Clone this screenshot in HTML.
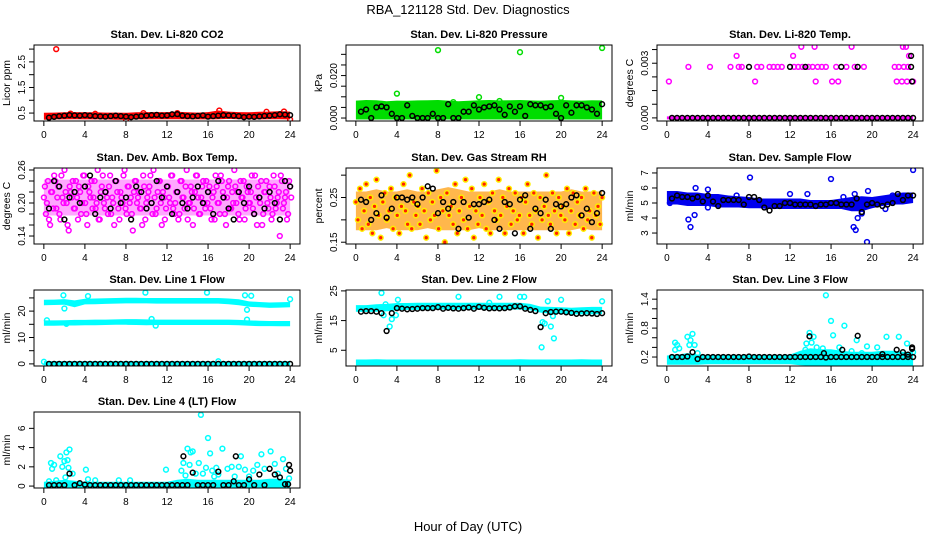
<!DOCTYPE html>
<html><head><meta charset="utf-8">
<style>
html,body{margin:0;padding:0;background:#fff;}
svg{display:block;font-family:"Liberation Sans",sans-serif;}
</style></head>
<body>
<svg id="chart" width="936" height="540" viewBox="0 0 936 540" xmlns="http://www.w3.org/2000/svg">
<rect width="936" height="540" fill="#fff"/>
<text x="468" y="14" font-size="13" text-anchor="middle">RBA_121128  Std. Dev. Diagnostics</text>
<text x="468" y="531" font-size="13" text-anchor="middle">Hour of Day (UTC)</text>
<g id="panels"></g>
</svg>
<script>
// ---------- data ----------
const xTicks = [0,4,8,12,16,20,24];
const blackHours = [0.5,1,1.5,2,2.5,3,3.5,4,4.5,5,5.5,6,6.5,7,7.5,8,8.5,9,9.5,10,10.5,11,11.5,12,12.5,13,13.5,14,14.5,15,15.5,16,16.5,17,17.5,18,18.5,19,19.5,20,20.5,21,21.5,22,22.5,23,23.5,24];
const bandHours = [0,1,2,3,4,5,6,7,8,9,10,11,12,13,14,15,16,17,18,19,20,21,22,23,24];

// P1 CO2
const co2Ticks = [0.5,1,1.5,2,2.5,3];
const co2Labels = ["0.5","","1.5","","2.5",""];
const co2BandLo = [0.30,0.31,0.31,0.32,0.31,0.31,0.31,0.30,0.30,0.31,0.31,0.32,0.32,0.32,0.31,0.31,0.31,0.32,0.33,0.32,0.31,0.31,0.32,0.32,0.31];
const co2BandHi = [0.45,0.46,0.47,0.48,0.47,0.47,0.46,0.46,0.45,0.47,0.48,0.48,0.48,0.49,0.47,0.46,0.48,0.54,0.50,0.48,0.47,0.49,0.50,0.52,0.50];
const co2Pts = [[1.2,3.0],[17.1,0.6],[21.7,0.55],[23.4,0.56],[8,0.25],[24,0.25],[2.6,0.48],[5,0.47],[9.7,0.5],[13,0.5]];
const co2Black = [0.32,0.35,0.38,0.40,0.42,0.41,0.40,0.42,0.40,0.38,0.37,0.36,0.38,0.40,0.38,0.36,0.34,0.36,0.38,0.40,0.42,0.43,0.40,0.41,0.45,0.46,0.40,0.38,0.37,0.39,0.41,0.36,0.38,0.40,0.42,0.41,0.40,0.38,0.34,0.36,0.35,0.37,0.39,0.40,0.42,0.45,0.44,0.42];

// P2 Pressure
const presTicks = [0,0.005,0.01,0.015,0.02,0.025,0.03];
const presLabels = ["0.000","","","","0.020","",""];
const presBandLo = [0,0,0,0,0,0,0,0,0,0,0,0,0,0,0,0,0,0,0,0,0,0,0,0,0];
const presBandHi = [0.0075,0.0078,0.0077,0.0072,0.0075,0.0074,0.0076,0.0077,0.0078,0.0075,0.0072,0.0074,0.0077,0.0078,0.0076,0.0077,0.0078,0.0076,0.0075,0.0077,0.0078,0.0076,0.0075,0.0077,0.0076];
const presPts = [[8,0.032],[16,0.031],[24,0.033],[4,0.0115],[12,0.0098],[20,0.0095],[9.5,0.0075],[14,0.008]];
const presBlack = [0.003,0.004,0.0,0.005,0.0055,0.005,0.002,0.0,0.0,0.006,0.001,0.0,0.0,0.0,0.002,0.0,0.0,0.0065,0.0,0.0,0.003,0.003,0.006,0.004,0.005,0.0055,0.006,0.004,0.0015,0.0055,0.003,0.0055,0.001,0.0065,0.006,0.006,0.005,0.0055,0.002,0.0,0.006,0.0025,0.006,0.006,0.005,0.004,0.002,0.0065];

// P3 Temp
const tempTicks = [0,0.00075,0.0015,0.00225,0.003,0.00375];
const tempLabels = ["0.000","","","","0.003",""];
const tempBandLo = [0,0,0,0,0,0,0,0,0,0,0,0,0,0,0,0,0,0,0,0,0,0,0,0,0];
const tempBandHi = [0,0,0,0,0,0,0,0,0,0,0,0,0,0,0,0,0,0,0,0,0,0,0,0,0];
const tempPts = [[0.2,0.002],[2.1,0.0028],[4.2,0.0028],[6.2,0.0028],[6.8,0.0034],[7,0.0028],[7.3,0.0028],[8.6,0.002],[8.8,0.0028],[9.2,0.0028],[10,0.0028],[10.4,0.0028],[10.8,0.0028],[11.2,0.0028],[12.3,0.0034],[12.4,0.0028],[12.8,0.0028],[13.1,0.0039],[13.2,0.0028],[13.8,0.0028],[14.2,0.0028],[14.4,0.0039],[14.5,0.002],[14.7,0.0028],[15.1,0.0028],[15.5,0.0028],[16.1,0.002],[16.5,0.0028],[16.7,0.002],[17.5,0.0028],[18,0.0039],[18.3,0.0028],[19.2,0.0028],[22.2,0.0028],[22.4,0.002],[22.6,0.0028],[22.9,0.002],[23,0.0039],[23.1,0.0028],[23.3,0.0039],[23.4,0.002],[23.5,0.0028],[23.6,0.0034],[24,0.002]];
const tempBlack = [0,0,0,0,0,0,0,0,0,0,0,0,0,0,0,0,0,0,0,0,0,0,0,0,0,0,0,0,0,0,0,0,0,0,0,0,0,0,0,0,0,0,0,0,0,0,0,0];
const tempBlackExtra = [[8,0.0028],[12,0.0028],[13.5,0.0028],[17,0.0028],[18.6,0.0028],[23.8,0.0028],[23.8,0.0034],[23.9,0.002]];

// P4 Amb box temp
const ambTicks = [0.14,0.16,0.18,0.2,0.22,0.24,0.26];
const ambLabels = ["0.14","","","0.20","","","0.26"];
const ambBandLo = [0.18,0.18,0.18,0.18,0.18,0.18,0.18,0.18,0.18,0.18,0.18,0.18,0.18,0.18,0.18,0.18,0.18,0.18,0.18,0.18,0.18,0.18,0.18,0.18,0.18];
const ambBandHi = [0.24,0.24,0.24,0.24,0.24,0.24,0.24,0.24,0.24,0.24,0.24,0.24,0.24,0.24,0.24,0.24,0.24,0.24,0.24,0.24,0.24,0.24,0.24,0.24,0.24];
const ambCloud = [0.21,0.18,0.24,0.16,0.22,0.25,0.19,0.23,0.17,0.21,0.26,0.20,0.15,0.22,0.24,0.19,0.21,0.23,0.18,0.25,0.20,0.16,0.22,0.24,0.21,0.19,0.26,0.17,0.23,0.20,0.22,0.18,0.25,0.21,0.16,0.24,0.19,0.22,0.20,0.26,0.18,0.23,0.21,0.15,0.24,0.20,0.22,0.19,0.25,0.17,0.21,0.23,0.20,0.26,0.18,0.22,0.24,0.16,0.21,0.19,0.23,0.20,0.25,0.18,0.22,0.17,0.24,0.21,0.19,0.26,0.20,0.23,0.16,0.22,0.25,0.18,0.21,0.24,0.19,0.20,0.23,0.17,0.22,0.25,0.20,0.18,0.24,0.21,0.16,0.23,0.19,0.22,0.26,0.20,0.18,0.24,0.21,0.17,0.23,0.20,0.22,0.19,0.25,0.16,0.21,0.24,0.18,0.22,0.20,0.23,0.17,0.25,0.19,0.21,0.14,0.24,0.20,0.22,0.18,0.23];
const ambCloud2 = [0.23,0.20,0.17,0.22,0.19,0.24,0.21,0.18,0.25,0.20,0.22,0.16,0.23,0.21,0.19,0.24,0.17,0.22,0.20,0.25,0.18,0.23,0.21,0.19,0.24,0.20,0.17,0.22,0.25,0.19,0.21,0.23,0.18,0.20,0.24,0.22,0.17,0.21,0.25,0.19,0.23,0.20,0.18,0.22,0.24,0.21,0.19,0.16,0.23,0.20,0.22,0.25,0.18,0.21,0.19,0.24,0.20,0.22,0.17,0.23,0.21,0.25,0.19,0.20,0.22,0.18,0.24,0.21,0.23,0.17,0.20,0.22,0.19,0.25,0.21,0.18,0.23,0.20,0.24,0.22,0.19,0.21,0.17,0.23,0.20,0.25,0.22,0.18,0.21,0.24,0.19,0.20,0.23,0.22,0.17,0.21,0.24,0.19,0.22,0.20,0.25,0.18,0.21,0.23,0.20,0.16,0.22,0.24,0.19,0.21,0.18,0.23,0.20,0.22,0.25,0.19,0.21,0.17,0.24,0.21];
const ambBlack = [0.19,0.24,0.23,0.17,0.21,0.22,0.20,0.23,0.25,0.18,0.21,0.22,0.19,0.24,0.20,0.21,0.17,0.23,0.22,0.19,0.20,0.24,0.21,0.23,0.18,0.22,0.20,0.19,0.21,0.23,0.20,0.22,0.18,0.24,0.21,0.19,0.17,0.22,0.20,0.23,0.18,0.21,0.19,0.22,0.20,0.17,0.24,0.23];

// P5 Gas stream RH
const rhTicks = [0.15,0.2,0.25,0.3];
const rhLabels = ["0.15","","0.25",""];
const rhBandLo = [0.18,0.18,0.18,0.185,0.18,0.18,0.18,0.185,0.18,0.18,0.18,0.18,0.185,0.18,0.18,0.18,0.18,0.18,0.18,0.18,0.18,0.18,0.185,0.18,0.18];
const rhBandHi = [0.26,0.26,0.265,0.26,0.26,0.265,0.26,0.26,0.265,0.27,0.265,0.26,0.26,0.26,0.265,0.26,0.26,0.26,0.26,0.26,0.26,0.265,0.26,0.26,0.26];
const rhCloud = [0.24,0.20,0.27,0.18,0.22,0.28,0.19,0.25,0.17,0.23,0.29,0.21,0.16,0.24,0.26,0.20,0.22,0.27,0.18,0.25,0.21,0.17,0.23,0.28,0.22,0.19,0.30,0.18,0.24,0.21,0.23,0.19,0.27,0.22,0.16,0.26,0.20,0.24,0.21,0.31,0.18,0.25,0.22,0.15,0.26,0.21,0.23,0.19,0.28,0.17,0.22,0.25,0.20,0.29,0.18,0.23,0.27,0.16,0.22,0.19,0.25,0.21,0.28,0.18,0.24,0.17,0.26,0.22,0.20,0.29,0.21,0.25,0.17,0.23,0.27,0.19,0.22,0.26,0.20,0.21,0.25,0.17,0.24,0.28,0.21,0.19,0.26,0.22,0.16,0.25,0.20,0.23,0.30,0.21,0.19,0.26,0.22,0.17,0.25,0.21,0.23,0.20,0.27,0.17,0.22,0.26,0.19,0.24,0.21,0.25,0.18,0.27,0.20,0.22,0.16,0.26,0.21,0.23,0.19,0.25];
const rhBlack = [0.245,0.24,0.20,0.215,0.255,0.205,0.225,0.25,0.25,0.245,0.25,0.235,0.25,0.275,0.27,0.215,0.24,0.225,0.24,0.18,0.24,0.205,0.235,0.235,0.24,0.245,0.20,0.18,0.24,0.235,0.17,0.245,0.255,0.18,0.225,0.215,0.245,0.18,0.235,0.23,0.235,0.25,0.255,0.21,0.225,0.195,0.215,0.26];

// P6 Sample flow
const sfTicks = [3,4,5,6,7];
const sfLabels = ["3","4","5","6","7"];
const sfBandLo = [5.0,5.0,4.9,4.9,4.9,4.8,4.8,4.8,4.75,4.75,4.7,4.7,4.7,4.7,4.7,4.7,4.7,4.7,4.55,4.55,4.75,4.9,5.0,5.0,5.1];
const sfBandHi = [5.7,5.7,5.6,5.6,5.5,5.5,5.4,5.35,5.3,5.2,5.2,5.2,5.2,5.2,5.1,5.1,5.1,5.2,5.3,5.35,5.3,5.4,5.5,5.6,5.6];
const sfPts = [[0.3,5.0],[2.1,3.9],[2.3,3.4],[2.7,4.2],[2.8,6.0],[4,5.9],[4,4.7],[6.8,5.5],[8.1,6.7],[12,5.6],[13.7,5.6],[16,6.6],[17.2,5.4],[18.2,3.4],[18.4,3.2],[18.6,4.0],[18.3,5.6],[19.0,4.3],[19.5,2.4],[19.6,5.8],[20.2,5.2],[24,7.2],[22,5.5],[21.3,4.6]];
const sfBlack = [5.3,5.5,5.4,5.4,5.3,5.4,5.1,5.5,5.1,4.8,5.2,5.2,5.2,5.2,4.9,5.4,5.4,5.2,4.7,4.5,4.8,4.8,5.0,5.0,4.9,4.9,4.9,4.9,4.8,4.9,4.9,5.0,5.0,4.9,4.9,4.9,5.3,4.4,4.9,5.0,4.9,4.8,4.9,5.0,5.6,5.2,5.5,5.5];

// P7 Line 1 flow
const l1Ticks = [0,5,10,15,20,25];
const l1Labels = ["0","","10","","20",""];
const l1BandALo = [0,0,0,0,0,0,0,0,0,0,0,0,0,0,0,0,0,0,0,0,0,0,0,0,0];
const l1BandAHi = [0.5,0.5,0.5,0.5,0.5,0.5,0.5,0.5,0.5,0.5,0.5,0.5,0.5,0.5,0.5,0.5,0.5,0.5,0.5,0.5,0.5,0.5,0.5,0.5,0.5];
const l1BandBLo = [15.0,15.0,15.1,15.1,15.2,15.2,15.3,15.4,15.4,15.3,15.2,15.3,15.3,15.3,15.3,15.3,15.3,15.3,15.3,15.2,15.0,14.9,14.9,14.8,14.8];
const l1BandBHi = [15.9,15.9,16.0,16.1,16.1,16.2,16.2,16.3,16.4,16.4,16.3,16.2,16.2,16.2,16.2,16.2,16.2,16.2,16.2,16.1,15.9,15.8,15.7,15.7,15.7];
const l1BandCLo = [22.8,22.9,23.0,22.0,23.1,23.2,23.3,23.4,23.5,23.5,23.5,23.4,23.4,23.4,23.4,23.4,23.4,23.4,23.2,22.8,22.2,22.0,21.8,21.9,22.0];
const l1BandCHi = [23.7,23.8,24.0,23.5,24.1,24.2,24.3,24.4,24.5,24.5,24.4,24.4,24.4,24.4,24.4,24.4,24.4,24.4,24.2,23.9,23.1,22.9,22.7,22.8,22.9];
const l1Pts = [[0.3,16.5],[1.9,26.0],[2,21],[4.3,25.7],[9.9,27],[15.9,27],[19.6,26],[19.8,20.5],[20.2,25.8],[24,24.5],[19.8,16.8],[10.9,14.5],[10.5,17],[2.2,15.2],[0,0.8],[17,1]];
const l1Black = [0,0,0,0,0,0,0,0,0,0,0,0,0,0,0,0,0,0,0,0,0,0,0,0,0,0,0,0,0,0,0,0,0,0,0,0,0,0,0,0,0,0,0,0,0,0,0,0];

// P8 Line 2 flow
const l2Ticks = [5,15,25];
const l2Labels = ["5","15","25"];
const l2BandALo = [0.4,0.4,0.4,0.4,0.4,0.4,0.4,0.4,0.4,0.4,0.4,0.4,0.4,0.4,0.4,0.4,0.4,0.4,0.4,0.4,0.4,0.4,0.4,0.4,0.4];
const l2BandAHi = [1.4,1.4,1.5,1.4,1.4,1.4,1.4,1.4,1.4,1.4,1.4,1.4,1.4,1.4,1.4,1.4,1.5,1.4,1.4,1.4,1.4,1.4,1.5,1.4,1.4];
const l2BandBLo = [18.5,18.4,18.5,18.6,19.0,19.1,19.1,19.2,19.2,19.2,19.2,19.2,19.2,19.2,19.2,19.2,19.2,19.0,18.2,17.8,17.8,17.6,17.6,17.6,17.7];
const l2BandBHi = [19.7,19.7,20.0,20.1,20.4,20.4,20.5,20.5,20.5,20.5,20.5,20.5,20.5,20.5,20.5,20.5,20.5,20.1,19.2,19.1,19.0,18.8,19.0,19.1,19.1];
const l2Pts = [[2.5,24.3],[2.7,16.8],[2.9,20.5],[3.3,13],[3.5,15.5],[3.9,16.8],[4.1,22],[10,23],[13,21],[14,23],[16,23],[16.4,23],[18.2,14.5],[18.1,6],[18.4,14],[18.7,21.5],[19.0,13],[19.2,16.5],[19.3,9],[20,22],[24,21.5]];
const l2Black = [18,18.2,18.2,18,17.5,11.5,17.5,19.2,19.0,18.8,18.9,19.0,19.2,19.2,19.2,19.5,19.0,19.3,19.1,19.0,19.2,19.4,19.0,19.6,19.3,19.1,19.2,19.1,19.2,19.4,19.8,19.8,19.0,18.6,18.2,12.8,17.5,17.9,18.0,18.0,17.8,17.6,17.3,17.4,17.5,17.4,17.2,17.5];

// P9 Line 3 flow
const l3Ticks = [0.2,0.4,0.6,0.8,1.0,1.2,1.4];
const l3Labels = ["0.2","","","0.8","","","1.4"];
const l3BandLo = [0.07,0.07,0.07,0.07,0.08,0.08,0.08,0.08,0.08,0.08,0.08,0.08,0.08,0.06,0.05,0.05,0.05,0.05,0.05,0.05,0.05,0.05,0.05,0.05,0.05];
const l3BandHi = [0.2,0.22,0.25,0.22,0.21,0.21,0.21,0.21,0.21,0.21,0.21,0.21,0.22,0.30,0.35,0.33,0.33,0.30,0.28,0.28,0.28,0.30,0.30,0.28,0.28];
const l3Pts = [[0.8,0.35],[0.8,0.5],[1,0.45],[1.2,0.38],[2,0.62],[2.2,0.45],[2.3,0.55],[2.5,0.68],[2.7,0.45],[3,0.28],[13.6,0.48],[13.5,0.35],[13.9,0.7],[14.1,0.5],[14.3,0.62],[14.6,0.4],[15.2,0.38],[15.5,1.48],[16,0.95],[16.2,0.65],[16.8,0.4],[17.3,0.85],[18,0.32],[18.5,0.55],[19,0.28],[19.5,0.42],[20.5,0.4],[21.4,0.62],[22.6,0.62],[23.4,0.48],[24,0.3]];
const l3Black = [0.2,0.2,0.2,0.21,0.3,0.16,0.2,0.2,0.2,0.2,0.2,0.2,0.2,0.2,0.2,0.21,0.2,0.2,0.2,0.2,0.2,0.2,0.2,0.2,0.2,0.2,0.2,0.2,0.2,0.2,0.19,0.2,0.2,0.2,0.2,0.2,0.2,0.2,0.2,0.2,0.2,0.2,0.2,0.2,0.2,0.2,0.2,0.2];
const l3BlackExtra = [[13.9,0.63],[15.3,0.28],[17.1,0.35],[18.6,0.64],[21,0.26],[22.4,0.35],[23,0.3],[23.9,0.37],[23.9,0.4],[23.5,0.25]];

// P10 Line 4 flow
const l4Ticks = [0,2,4,6];
const l4Labels = ["0","2","4","6"];
const l4BandLo = [0,0,0,0,0,0,0,0,0,0,0,0,0,0,0,0,0,0,0,0,0,0,0,0,0];
const l4BandHi = [0.3,0.4,0.5,0.4,0.3,0.3,0.3,0.3,0.3,0.3,0.3,0.3,0.3,0.5,0.6,0.5,0.5,0.5,0.5,0.5,0.5,0.5,0.6,0.6,0.5];
const l4Pts = [[0.5,0.5],[0.7,2.4],[0.8,1.8],[1.0,2.2],[1.2,0.6],[1.6,3.1],[1.8,2.0],[2.0,2.6],[2.2,3.5],[2.3,2.7],[2.5,3.8],[2.4,1.9],[2.8,1.3],[2.1,0.9],[4.1,1.7],[4.3,0.7],[5,0.6],[7.3,0.6],[8.4,0.6],[11.9,1.7],[13.4,1.6],[13.6,2.4],[13.8,1.1],[14,3.9],[14.2,2.2],[14.5,3.6],[14.8,1.3],[15.1,2.4],[15.3,7.4],[15.5,1.3],[15.8,1.9],[16,5.0],[16.2,3.4],[16.4,1.6],[16.6,1.0],[17.4,3.9],[17.9,1.8],[18.3,2.0],[18.6,1.0],[19.2,3.1],[19.6,1.7],[20,1.0],[20.4,1.6],[20.8,2.2],[21.2,3.3],[21.5,1.8],[22.1,3.6],[22.5,2.3],[22.8,1.3],[23.3,2.8],[23.6,1.8],[23.9,0.8],[16.8,1.9],[17,1.2],[14.3,3.5],[19,2.0]];
const l4Black = [0.1,0.1,0.1,0.1,1.3,0.1,0.3,0.15,0.1,0.1,0.1,0.1,0.1,0.1,0.1,0.1,0.1,0.1,0.1,0.1,0.1,0.1,0.1,0.1,0.1,0.1,0.1,0.1,1.4,0.1,0.1,0.1,0.1,1.5,0.1,0.1,0.5,0.1,0.1,0.7,0.1,1.2,0.1,1.8,1.2,0.9,0.2,1.6];
const l4BlackExtra = [[13.6,3.1],[18.7,3.1],[23.9,2.2],[23.8,0.2]];

// ---------- layout ----------
const colX = [34,346,657], rowY = [45,168,290,412], PW = 266, PH = 76;
const panels = [
 {title:"Stan. Dev. Li-820 CO2", ylab:"Licor ppm", c:0,r:0, ymin:0.19,ymax:3.16, ticks:co2Ticks, labels:co2Labels, bands:[[co2BandLo,co2BandHi]], col:"#ff0000", fill:null, pts:co2Pts, clouds:[], black:co2Black, extra:[]},
 {title:"Stan. Dev. Li-820 Pressure", ylab:"kPa", c:1,r:0, ymin:-0.0014,ymax:0.0344, ticks:presTicks, labels:presLabels, bands:[[presBandLo,presBandHi]], col:"#00dd00", fill:null, pts:presPts, clouds:[], black:presBlack, extra:[]},
 {title:"Stan. Dev. Li-820 Temp.", ylab:"degrees C", c:2,r:0, ymin:-0.00017,ymax:0.0040, ticks:tempTicks, labels:tempLabels, bands:[[tempBandLo,tempBandHi]], col:"#ff00ff", fill:null, pts:tempPts, clouds:[], black:tempBlack, extra:tempBlackExtra},
 {title:"Stan. Dev. Amb. Box Temp.", ylab:"degrees C", c:0,r:1, ymin:0.1255,ymax:0.2636, ticks:ambTicks, labels:ambLabels, bands:[[ambBandLo,ambBandHi]], bandOpacity:0.35, col:"#ff00ff", fill:null, pts:[], clouds:[ambCloud,ambCloud2], black:ambBlack, extra:[]},
 {title:"Stan. Dev. Gas Stream RH", ylab:"percent", c:1,r:1, ymin:0.146,ymax:0.316, ticks:rhTicks, labels:rhLabels, bands:[[rhBandLo,rhBandHi]], bandOpacity:0.7, bandCol:"#ff9900", col:"#ffee00", fill:"#ff2200", pts:[], clouds:[rhCloud], black:rhBlack, extra:[]},
 {title:"Stan. Dev. Sample Flow", ylab:"ml/min", c:2,r:1, ymin:2.27,ymax:7.33, ticks:sfTicks, labels:sfLabels, bands:[[sfBandLo,sfBandHi]], col:"#0000ee", fill:null, pts:sfPts, clouds:[], black:sfBlack, extra:[]},
 {title:"Stan. Dev. Line 1 Flow", ylab:"ml/min", c:0,r:2, ymin:-0.8,ymax:28, ticks:l1Ticks, labels:l1Labels, bands:[[l1BandALo,l1BandAHi],[l1BandBLo,l1BandBHi],[l1BandCLo,l1BandCHi]], col:"#00ffff", fill:null, pts:l1Pts, clouds:[], black:l1Black, extra:[]},
 {title:"Stan. Dev. Line 2 Flow", ylab:"ml/min", c:1,r:2, ymin:-0.3,ymax:25.3, ticks:l2Ticks, labels:l2Labels, bands:[[l2BandALo,l2BandAHi],[l2BandBLo,l2BandBHi]], col:"#00ffff", fill:null, pts:l2Pts, clouds:[], black:l2Black, extra:[]},
 {title:"Stan. Dev. Line 3 Flow", ylab:"ml/min", c:2,r:2, ymin:0.014,ymax:1.59, ticks:l3Ticks, labels:l3Labels, bands:[[l3BandLo,l3BandHi]], col:"#00ffff", fill:null, pts:l3Pts, clouds:[], black:l3Black, extra:l3BlackExtra},
 {title:"Stan. Dev. Line 4 (LT) Flow", ylab:"ml/min", c:0,r:3, ymin:-0.2,ymax:7.7, ticks:l4Ticks, labels:l4Labels, bands:[[l4BandLo,l4BandHi]], col:"#00ffff", fill:null, pts:l4Pts, clouds:[], black:l4Black, extra:l4BlackExtra}
];

const NS = "http://www.w3.org/2000/svg";
const root = document.getElementById("panels");
function mk(tag, attrs, parent){
  const e = document.createElementNS(NS, tag);
  for (const k in attrs) e.setAttribute(k, attrs[k]);
  parent.appendChild(e);
  return e;
}

panels.forEach((p, pi) => {
  const X0 = colX[p.c], Y0 = rowY[p.r];
  const xs = h => X0 + (h + 0.96) / 25.92 * PW;
  const ys = v => Y0 + PH - (v - p.ymin) / (p.ymax - p.ymin) * PH;
  const slug = p.title.replace("Stan. Dev. ","").toLowerCase().replace(/[^a-z0-9]+/g,"-").replace(/-+$/,"");
  const g = mk("g", {}, root);
  
  

  const t = mk("text", {x: X0 + PW/2, y: Y0 - 7, "font-size": 11, "font-weight": "bold", "text-anchor": "middle"}, g);
  t.textContent = p.title;
  
  

  const yl = mk("text", {x: 0, y: 0, "font-size": 10.5, "text-anchor": "middle", transform: `translate(${X0-24},${Y0+PH/2}) rotate(-90)`}, g);
  yl.textContent = p.ylab;
  
  

  const clip = mk("clipPath", {id: "clip" + pi}, g);
  mk("rect", {x: X0, y: Y0, width: PW, height: PH}, clip);
  const plot = mk("g", {"clip-path": `url(#clip${pi})`}, g);
  
  

  p.bands.forEach(b => {
    const lo = b[0], hi = b[1];
    let d = "";
    bandHours.forEach((h, i) => { d += (i ? "L" : "M") + xs(h).toFixed(1) + "," + (ys(hi[i]) - 1.5).toFixed(1); });
    for (let i = bandHours.length - 1; i >= 0; i--) d += "L" + xs(bandHours[i]).toFixed(1) + "," + (ys(lo[i]) + 1.5).toFixed(1);
    d += "Z";
    const band = mk("path", {d: d, fill: p.bandCol || p.col, "fill-opacity": p.bandOpacity || 1, stroke: "none"}, plot);
    
    
  });

  function dot(x, y, stroke, fill, name){
    const c = mk("circle", {cx: xs(x).toFixed(1), cy: ys(y).toFixed(1), r: 2.4, fill: fill || "none", stroke: stroke, "stroke-width": 1.5}, plot);
    
    
  }
  p.clouds.forEach((cl, ci) => {
    cl.forEach((v, i) => dot(i * 24 / (cl.length - 1) + (ci ? 0.1 : 0), v, p.col, p.fill, 'scatter-point'));
  });
  p.pts.forEach(q => dot(q[0], q[1], p.col, p.fill, 'scatter-point'));
  p.black.forEach((v, i) => dot(blackHours[i], v, "#000", null, 'hourly-point'));
  p.extra.forEach(q => dot(q[0], q[1], "#000", null, 'hourly-point'));

  const box = mk("rect", {x: X0, y: Y0, width: PW, height: PH, fill: "none", stroke: "#000", "stroke-width": 1}, g);
  
  

  const xa = mk("g", {}, g);
  
  
  xTicks.forEach(h => {
    mk("line", {x1: xs(h), x2: xs(h), y1: Y0 + PH, y2: Y0 + PH + 5, stroke: "#000"}, xa);
    const tl = mk("text", {x: xs(h), y: Y0 + PH + 17, "font-size": 10, "text-anchor": "middle"}, xa);
    tl.textContent = h;
    
    
  });
  const ya = mk("g", {}, g);
  
  
  p.ticks.forEach((v, i) => {
    mk("line", {x1: X0 - 5, x2: X0, y1: ys(v), y2: ys(v), stroke: "#000"}, ya);
    if (p.labels[i]) {
      const tl = mk("text", {x: 0, y: 0, "font-size": 10, "text-anchor": "middle", transform: `translate(${X0-9},${ys(v)}) rotate(-90)`}, ya);
      tl.textContent = p.labels[i];
      
      
    }
  });
});
</script>
</body></html>
